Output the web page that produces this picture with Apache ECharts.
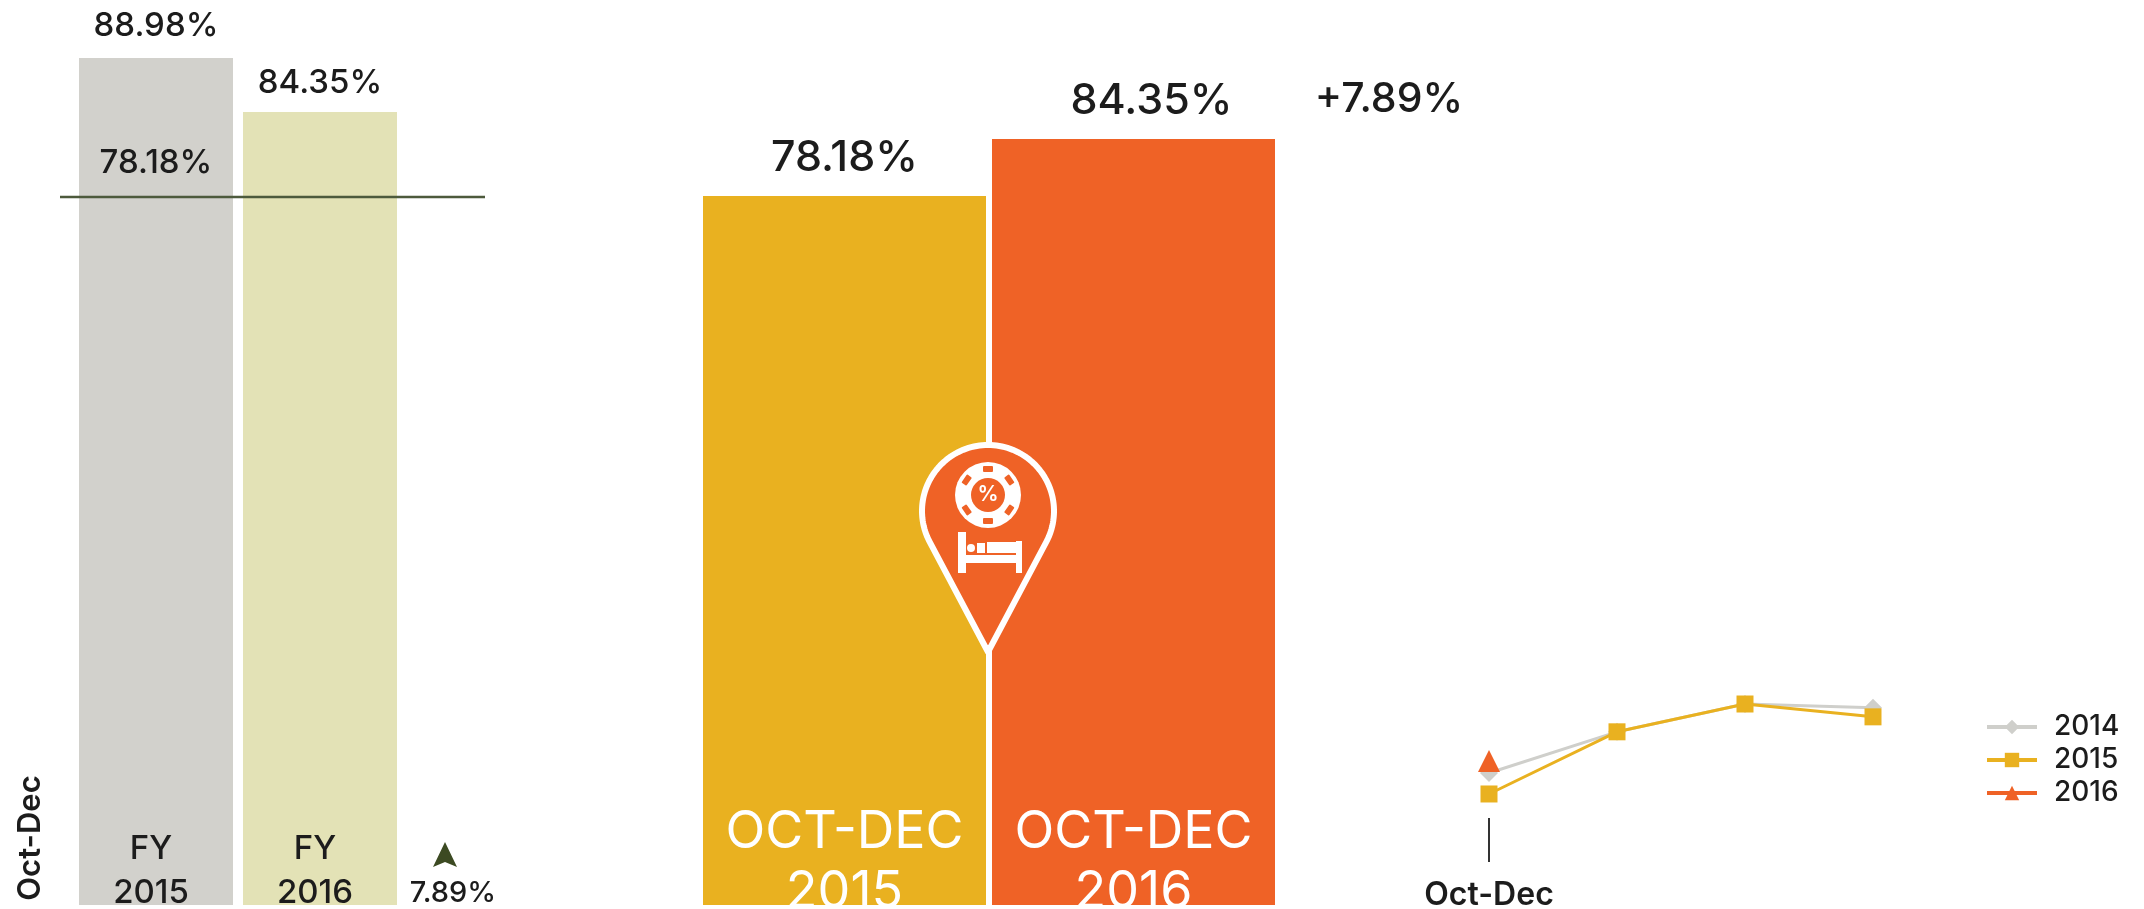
<!DOCTYPE html>
<html><head><meta charset="utf-8">
<style>html,body{margin:0;padding:0;background:#fff}#c{width:2144px;height:909px}</style>
<script src="https://cdn.jsdelivr.net/npm/echarts@6/dist/echarts.min.js"></script>
</head><body><div id="c"></div>
<script>
// --- data ---
const fyCategories = ['FY\n2015', 'FY\n2016'];
const fyValues = [88.98, 84.35];
const fyReferenceLabel = '78.18%';
const fyReferenceLevel = 77.06;      // where the line sits on the drawn bar scale
const fyChange = '7.89%';
const quarterCategories = ['OCT-DEC\n2015', 'OCT-DEC\n2016'];
const quarterValues = [78.18, 84.35];
const quarterChange = '+7.89%';
const trendCategories = ['Oct-Dec', '', '', ''];
const trend2014 = [82.1, 89.8, 95.0, 94.3];
const trend2015 = [78.18, 89.8, 95.0, 92.6];
const trend2016 = [84.35, null, null, null];
const sideLabel = 'Oct-Dec';

const FONT = 'Inter, "Open Sans", sans-serif';
const INK = '#1c1c1c', GREY = '#d2d1cc', KHAKI = '#e3e2b6', GOLD = '#e9b120', ORANGE = '#ef6226', PALE = '#cfcfcb', OLIVE = '#3c4a22';

const chart = echarts.init(document.getElementById('c'), null, {renderer: 'canvas'});
const hiddenValue = (gridIndex, min, max) => ({type: 'value', gridIndex, min, max, show: false});

// pin artwork: a circle head running into a point
const PX = 988, PY = 511, R = 66, TIP = 652;
const phi = Math.acos(R / (TIP - PY));
const pinPoints = [[PX, TIP]];
for (let i = 0; i <= 96; i++) {
  const t = phi + (i / 96) * (2 * Math.PI - 2 * phi);
  pinPoints.push([PX + R * Math.sin(t), PY + R * Math.cos(t)]);
}
const CX = 988, CY = 495;
const notches = [0, 55, 125, 180, 235, 305].map(a => ({
  type: 'rect', z: 23, x: CX, y: CY, rotation: -a * Math.PI / 180,
  shape: {x: -5, y: -29, width: 10, height: 6, r: 1}, style: {fill: ORANGE}
}));
const white = {fill: '#fff'};
const pin = [
  {type: 'polygon', z: 21, shape: {points: pinPoints}, style: {fill: ORANGE, stroke: '#fff', lineWidth: 6, lineJoin: 'round'}},
  {type: 'circle', z: 22, shape: {cx: CX, cy: CY, r: 33}, style: white},
  ...notches,
  {type: 'circle', z: 24, shape: {cx: CX, cy: CY, r: 17}, style: {fill: ORANGE}},
  {type: 'text', z: 25, x: CX, y: CY, style: {text: '%', fill: '#fff', font: `600 21px ${FONT}`, align: 'center', verticalAlign: 'middle'}},
  {type: 'rect', z: 22, shape: {x: 958, y: 532, width: 8, height: 41}, style: white},
  {type: 'rect', z: 22, shape: {x: 1016, y: 541, width: 6, height: 32}, style: white},
  {type: 'rect', z: 22, shape: {x: 958, y: 555, width: 64, height: 8}, style: white},
  {type: 'rect', z: 22, shape: {x: 987, y: 542, width: 29, height: 11}, style: white},
  {type: 'rect', z: 22, shape: {x: 977, y: 543, width: 8, height: 10}, style: white},
  {type: 'circle', z: 22, shape: {cx: 971, cy: 548, r: 4}, style: white}
];

chart.setOption({
  animation: false,
  backgroundColor: '#fff',
  textStyle: {fontFamily: FONT},
  grid: [
    {left: 74, top: 58, width: 328, height: 847, outerBoundsMode: 'none'},
    {left: 60, top: 58, width: 425, height: 847, outerBoundsMode: 'none'},
    {left: 700, top: 139, width: 578, height: 766, outerBoundsMode: 'none'},
    {left: 1489, top: 691, width: 384, height: 127, outerBoundsMode: 'none'}
  ],
  xAxis: [
    {type: 'category', gridIndex: 0, data: fyCategories, z: 5, axisLine: {show: false}, axisTick: {show: false},
     axisLabel: {interval: 0, inside: true, margin: -10, color: INK, fontSize: 33, fontWeight: 500, lineHeight: 44, padding: [0, 10, 0, 0], fontFamily: FONT}},
    {type: 'value', gridIndex: 1, min: 0, max: 1, show: false},
    {type: 'category', gridIndex: 2, data: quarterCategories, z: 5, axisLine: {show: false}, axisTick: {show: false},
     axisLabel: {interval: 0, inside: true, margin: -17, color: '#fff', fontSize: 52, lineHeight: 60, fontFamily: FONT}},
    {type: 'category', gridIndex: 3, data: trendCategories, boundaryGap: false, axisLine: {show: false},
     axisTick: {show: true, length: 44, interval: i => i === 0, lineStyle: {color: '#333', width: 2}},
     axisLabel: {interval: 0, margin: 61, color: INK, fontSize: 32, fontWeight: 600, fontFamily: FONT}}
  ],
  yAxis: [
    hiddenValue(0, 16.34, 88.98),
    hiddenValue(1, 16.34, 88.98),
    hiddenValue(2, 1.43, 84.35),
    hiddenValue(3, 73.69, 97.43)
  ],
  legend: {
    left: 1980, top: 708, orient: 'vertical', itemWidth: 50, itemHeight: 18, itemGap: 5,
    data: ['2014', '2015', '2016'],
    lineStyle: {width: 4},
    textStyle: {color: INK, fontSize: 28, fontWeight: 500, fontFamily: FONT, padding: [0, 0, 0, 12]}
  },
  series: [
    {type: 'bar', xAxisIndex: 0, yAxisIndex: 0, barWidth: 154,
     data: [
       {value: fyValues[0], itemStyle: {color: GREY}, label: {distance: 15}},
       {value: fyValues[1], itemStyle: {color: KHAKI}}
     ],
     label: {show: true, position: 'top', distance: 12, formatter: p => p.value + '%', color: INK, fontSize: 33, fontWeight: 500, fontFamily: FONT}},
    {type: 'line', xAxisIndex: 1, yAxisIndex: 1, z: 6, symbol: 'none', silent: true,
     lineStyle: {color: '#4d5a3c', width: 2.5},
     data: [[0, fyReferenceLevel], [1, fyReferenceLevel]]},
    {type: 'bar', xAxisIndex: 2, yAxisIndex: 2, barWidth: 283,
     data: [
       {value: quarterValues[0], itemStyle: {color: GOLD}},
       {value: quarterValues[1], itemStyle: {color: ORANGE}, label: {offset: [18, 0]}}
     ],
     label: {show: true, position: 'top', distance: 16, formatter: p => p.value + '%', color: INK, fontSize: 43, fontWeight: 500, fontFamily: FONT}},
    {name: '2014', type: 'line', xAxisIndex: 3, yAxisIndex: 3, data: trend2014, z: 3, symbol: 'diamond', symbolSize: 18,
     lineStyle: {color: PALE, width: 3}, itemStyle: {color: PALE}},
    {name: '2015', type: 'line', xAxisIndex: 3, yAxisIndex: 3, data: trend2015, z: 4, symbol: 'rect', symbolSize: 17,
     lineStyle: {color: GOLD, width: 3}, itemStyle: {color: GOLD}},
    {name: '2016', type: 'line', xAxisIndex: 3, yAxisIndex: 3, data: trend2016, z: 5, symbol: 'triangle', symbolSize: 22, showSymbol: true,
     lineStyle: {color: ORANGE, width: 3}, itemStyle: {color: ORANGE}}
  ],
  graphic: [
    {type: 'text', z: 10, x: 156, y: 163, style: {text: fyReferenceLabel, fill: INK, font: `500 33px ${FONT}`, align: 'center', verticalAlign: 'middle'}},
    {type: 'polygon', z: 10, shape: {points: [[445, 842], [457, 867], [445, 862], [433, 867]]}, style: {fill: OLIVE}},
    {type: 'text', z: 10, x: 453, y: 893, style: {text: fyChange, fill: INK, font: `500 29px ${FONT}`, align: 'center', verticalAlign: 'middle'}},
    {type: 'text', z: 10, x: 31, y: 838, rotation: Math.PI / 2, style: {text: sideLabel, fill: INK, font: `600 31px ${FONT}`, align: 'center', verticalAlign: 'middle'}},
    {type: 'text', z: 10, x: 1389, y: 100, style: {text: quarterChange, fill: INK, font: `500 41px ${FONT}`, align: 'center', verticalAlign: 'middle'}},
    ...pin
  ]
});
</script></body></html>
